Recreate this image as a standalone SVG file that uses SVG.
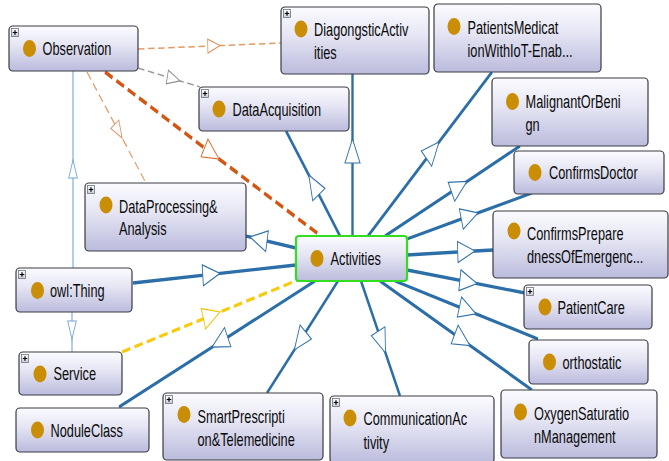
<svg xmlns="http://www.w3.org/2000/svg" width="669" height="461" viewBox="0 0 669 461">
<defs>
<linearGradient id="boxg" x1="0" y1="0" x2="0" y2="1">
<stop offset="0" stop-color="#fbfbff"/>
<stop offset="0.4" stop-color="#e7e7f5"/>
<stop offset="1" stop-color="#bbbbdd"/>
</linearGradient>
<linearGradient id="plusg" x1="0" y1="0" x2="0" y2="1">
<stop offset="0" stop-color="#ffffff"/>
<stop offset="1" stop-color="#c8ccd4"/>
</linearGradient>
<marker id="m-blue" markerUnits="userSpaceOnUse" orient="auto" overflow="visible" refX="0" refY="0" markerWidth="30" markerHeight="30">
<path d="M-24,-10.5 L0,0 L-24,10.5 Z" fill="#ffffff" stroke="#2f70aa" stroke-width="1.2"/>
</marker>
<marker id="m-thin" markerUnits="userSpaceOnUse" orient="auto" overflow="visible" refX="0" refY="0" markerWidth="30" markerHeight="30">
<path d="M-18,-6 L0,0 L-18,6 Z" fill="#ffffff" stroke="#6fa2d4" stroke-width="1.1"/>
</marker>
<marker id="m-orange" markerUnits="userSpaceOnUse" orient="auto" overflow="visible" refX="0" refY="0" markerWidth="30" markerHeight="30">
<path d="M-17,-7 L0,0 L-17,7 Z" fill="#ffffff" stroke="#e0935e" stroke-width="1.1"/>
</marker>
<marker id="m-red" markerUnits="userSpaceOnUse" orient="auto" overflow="visible" refX="0" refY="0" markerWidth="30" markerHeight="30">
<path d="M-23,-10 L0,0 L-23,10 Z" fill="#ffffff" stroke="#dd6a2a" stroke-width="1.2"/>
</marker>
<marker id="m-gray" markerUnits="userSpaceOnUse" orient="auto" overflow="visible" refX="0" refY="0" markerWidth="30" markerHeight="30">
<path d="M-18,-7 L0,0 L-18,7 Z" fill="#ffffff" stroke="#8a8a8a" stroke-width="1.1"/>
</marker>
<marker id="m-yellow" markerUnits="userSpaceOnUse" orient="auto" overflow="visible" refX="0" refY="0" markerWidth="30" markerHeight="30">
<path d="M-24,-10.5 L0,0 L-24,10.5 Z" fill="#ffffff" stroke="#f2c200" stroke-width="1.2"/>
</marker>
</defs>
<style>
.box{fill:url(#boxg);stroke:#3a3a44;stroke-width:1.2}
.sel{fill:url(#boxg);stroke:#33dd22;stroke-width:2.2}
.dot{fill:#c98e05}
.pb{fill:url(#plusg);stroke:#6a7480;stroke-width:0.8}
.pl{stroke:#000;stroke-width:1.2}
.lbl{font-family:"Liberation Sans",Arial,sans-serif;font-size:18px;fill:#0a0a0a}
.c{fill:none}
.blue{stroke:#2c6ea8;stroke-width:3.3;marker-mid:url(#m-blue)}
.thin{stroke:#7aaad8;stroke-width:1.6;marker-mid:url(#m-thin)}
.orange{stroke:#e49a66;stroke-width:1.5;stroke-dasharray:9 5;marker-mid:url(#m-orange)}
.gray{stroke:#9a9a9a;stroke-width:1.5;stroke-dasharray:9 5;marker-mid:url(#m-gray)}
.red{stroke:#d25614;stroke-width:3.8;stroke-dasharray:12 6;marker-mid:url(#m-red)}
.yellow{stroke:#f7cb10;stroke-width:3.3;stroke-dasharray:12 6;marker-mid:url(#m-yellow)}
</style>
<rect width="669" height="461" fill="#ffffff"/>
<g id="connectors" transform="scale(0.72,1)">
<path class="c orange" d="M191.67,49 L305.56,45.6 L390.28,43"/>
<path class="c gray" d="M191.67,68 L250,80.9 L277.78,87"/>
<path class="c orange" d="M120.83,72 L169.58,138 L202.78,183"/>
<path class="c red" d="M145.83,72 L304.17,159 L445.83,236"/>
<path class="c thin" d="M101.39,268 L101.39,160 L101.39,71"/>
<path class="c thin" d="M100,312 L100,339 L100,352"/>
<path class="c blue" d="M184.72,283 L305.56,273.4 L411.11,265"/>
<path class="c yellow" d="M169.44,352 L305.56,312 L413.89,280"/>
<path class="c blue" d="M437.5,281 L294.44,347.2 L165.28,407"/>
<path class="c blue" d="M469.44,281 L408.75,350 L370.83,393"/>
<path class="c blue" d="M501.39,281 L535.42,353 L555.56,396"/>
<path class="c blue" d="M527.78,281 L652.78,345.5 L738.89,390"/>
<path class="c blue" d="M548.61,281 L661.11,313.8 L747.22,339"/>
<path class="c blue" d="M565.28,270 L662.5,283.6 L729.17,293"/>
<path class="c blue" d="M565.28,255 L659.72,251 L684.72,250"/>
<path class="c blue" d="M565.28,239 L663.89,212.9 L738.89,193"/>
<path class="c blue" d="M534.72,236 L648.61,181.4 L722.22,146"/>
<path class="c blue" d="M511.11,236 L609.72,142 L683.33,72"/>
<path class="c blue" d="M489.58,236 L489.58,139 L489.58,74"/>
<path class="c blue" d="M472.22,236 L428.89,175 L397.22,131"/>
<path class="c blue" d="M411.11,248 L347.22,237 L341.67,236"/>
</g>
<g id="Observation">
<rect class="box" x="9" y="26" width="129" height="45" rx="4"/>
<rect class="pb" x="11.5" y="28.5" width="7" height="8"/><path class="pl" d="M12.8,32.5 H17.2 M15,30.3 V34.7"/>
<ellipse class="dot" cx="29.5" cy="48.5" rx="6.5" ry="8.5"/>
<text class="lbl" transform="translate(42.5,55) scale(0.71,1)">Observation</text>
</g>
<g id="DiagongsticActivities">
<rect class="box" x="281" y="7" width="148" height="67" rx="4"/>
<rect class="pb" x="283.5" y="9.5" width="7" height="8"/><path class="pl" d="M284.8,13.5 H289.2 M287,11.3 V15.7"/>
<ellipse class="dot" cx="301" cy="29" rx="6.5" ry="8.5"/>
<text class="lbl" transform="translate(314,36) scale(0.71,1)"><tspan x="0" y="0">DiagongsticActiv</tspan><tspan x="0" y="23">ities</tspan></text>
</g>
<g id="PatientsMedicationWithIoT">
<rect class="box" x="434" y="4" width="167" height="68" rx="4"/>
<ellipse class="dot" cx="454" cy="26.5" rx="6.5" ry="8.5"/>
<text class="lbl" transform="translate(467.5,33.5) scale(0.71,1)"><tspan x="0" y="0">PatientsMedicat</tspan><tspan x="0" y="23.5">ionWithIoT-Enab...</tspan></text>
</g>
<g id="MalignantOrBenign">
<rect class="box" x="492" y="78" width="156" height="68" rx="4"/>
<ellipse class="dot" cx="512.5" cy="101.5" rx="6.5" ry="8.5"/>
<text class="lbl" transform="translate(525.5,107.5) scale(0.71,1)"><tspan x="0" y="0">MalignantOrBeni</tspan><tspan x="0" y="23.5">gn</tspan></text>
</g>
<g id="ConfirmsDoctor">
<rect class="box" x="514" y="151" width="150" height="43" rx="4"/>
<ellipse class="dot" cx="535" cy="172.5" rx="6.5" ry="8.5"/>
<text class="lbl" transform="translate(549,179) scale(0.71,1)">ConfirmsDoctor</text>
</g>
<g id="ConfirmsPreparedness">
<rect class="box" x="493" y="211" width="175" height="67" rx="4"/>
<ellipse class="dot" cx="514" cy="231" rx="6.5" ry="8.5"/>
<text class="lbl" transform="translate(527,240) scale(0.71,1)"><tspan x="0" y="0">ConfirmsPrepare</tspan><tspan x="0" y="23">dnessOfEmergenc...</tspan></text>
</g>
<g id="PatientCare">
<rect class="box" x="524" y="285" width="128" height="44" rx="4"/>
<rect class="pb" x="526.5" y="287.5" width="7" height="8"/><path class="pl" d="M527.8,291.5 H532.2 M530,289.3 V293.7"/>
<ellipse class="dot" cx="545" cy="307" rx="6.5" ry="8.5"/>
<text class="lbl" transform="translate(557.5,313.5) scale(0.71,1)">PatientCare</text>
</g>
<g id="orthostatic">
<rect class="box" x="529" y="340" width="119" height="44" rx="4"/>
<ellipse class="dot" cx="549.5" cy="362" rx="6.5" ry="8.5"/>
<text class="lbl" transform="translate(562.5,368.5) scale(0.71,1)">orthostatic</text>
</g>
<g id="OxygenSaturationManagement">
<rect class="box" x="501" y="390" width="156" height="68" rx="4"/>
<ellipse class="dot" cx="520.5" cy="412" rx="6.5" ry="8.5"/>
<text class="lbl" transform="translate(534,419.5) scale(0.71,1)"><tspan x="0" y="0">OxygenSaturatio</tspan><tspan x="0" y="23.5">nManagement</tspan></text>
</g>
<g id="CommunicationActivity">
<rect class="box" x="330" y="396" width="164" height="67" rx="4"/>
<rect class="pb" x="332.5" y="398.5" width="7" height="8"/><path class="pl" d="M333.8,402.5 H338.2 M336,400.3 V404.7"/>
<ellipse class="dot" cx="350" cy="418" rx="6.5" ry="8.5"/>
<text class="lbl" transform="translate(363.5,425) scale(0.71,1)"><tspan x="0" y="0">CommunicationAc</tspan><tspan x="0" y="24">tivity</tspan></text>
</g>
<g id="SmartPrescriptionTelemedicine">
<rect class="box" x="163" y="393" width="160" height="67" rx="4"/>
<rect class="pb" x="165.5" y="395.5" width="7" height="8"/><path class="pl" d="M166.8,399.5 H171.2 M169,397.3 V401.7"/>
<ellipse class="dot" cx="184" cy="414.5" rx="6.5" ry="8.5"/>
<text class="lbl" transform="translate(197.5,422.5) scale(0.71,1)"><tspan x="0" y="0">SmartPrescripti</tspan><tspan x="0" y="23.5">on&amp;Telemedicine</tspan></text>
</g>
<g id="NoduleClass">
<rect class="box" x="16" y="408" width="133" height="44" rx="4"/>
<ellipse class="dot" cx="37.5" cy="430" rx="6.5" ry="8.5"/>
<text class="lbl" transform="translate(50.5,436.5) scale(0.71,1)">NoduleClass</text>
</g>
<g id="Service">
<rect class="box" x="19" y="352" width="103" height="43" rx="4"/>
<rect class="pb" x="21.5" y="354.5" width="7" height="8"/><path class="pl" d="M22.8,358.5 H27.2 M25,356.3 V360.7"/>
<ellipse class="dot" cx="40" cy="374" rx="6.5" ry="8.5"/>
<text class="lbl" transform="translate(53.5,380) scale(0.71,1)">Service</text>
</g>
<g id="owlThing">
<rect class="box" x="16" y="268" width="116" height="44" rx="4"/>
<rect class="pb" x="18.5" y="270.5" width="7" height="8"/><path class="pl" d="M19.8,274.5 H24.2 M22,272.3 V276.7"/>
<ellipse class="dot" cx="37.5" cy="290.5" rx="6.5" ry="8.5"/>
<text class="lbl" transform="translate(50,296.5) scale(0.71,1)">owl:Thing</text>
</g>
<g id="DataProcessingAnalysis">
<rect class="box" x="85" y="183" width="161" height="68" rx="4"/>
<rect class="pb" x="87.5" y="185.5" width="7" height="8"/><path class="pl" d="M88.8,189.5 H93.2 M91,187.3 V191.7"/>
<ellipse class="dot" cx="106" cy="205" rx="6.5" ry="8.5"/>
<text class="lbl" transform="translate(119,212.5) scale(0.71,1)"><tspan x="0" y="0">DataProcessing&amp;</tspan><tspan x="0" y="23">Analysis</tspan></text>
</g>
<g id="DataAcquisition">
<rect class="box" x="199" y="87" width="150" height="44" rx="4"/>
<rect class="pb" x="201.5" y="89.5" width="7" height="8"/><path class="pl" d="M202.8,93.5 H207.2 M205,91.3 V95.7"/>
<ellipse class="dot" cx="219" cy="109" rx="6.5" ry="8.5"/>
<text class="lbl" transform="translate(232.5,115.5) scale(0.71,1)">DataAcquisition</text>
</g>
<g id="Activities">
<rect class="sel" x="296" y="236" width="111" height="45" rx="3"/>
<ellipse class="dot" cx="317" cy="258.5" rx="6.5" ry="8.5"/>
<text class="lbl" transform="translate(330.5,265) scale(0.71,1)">Activities</text>
</g>
</svg>
